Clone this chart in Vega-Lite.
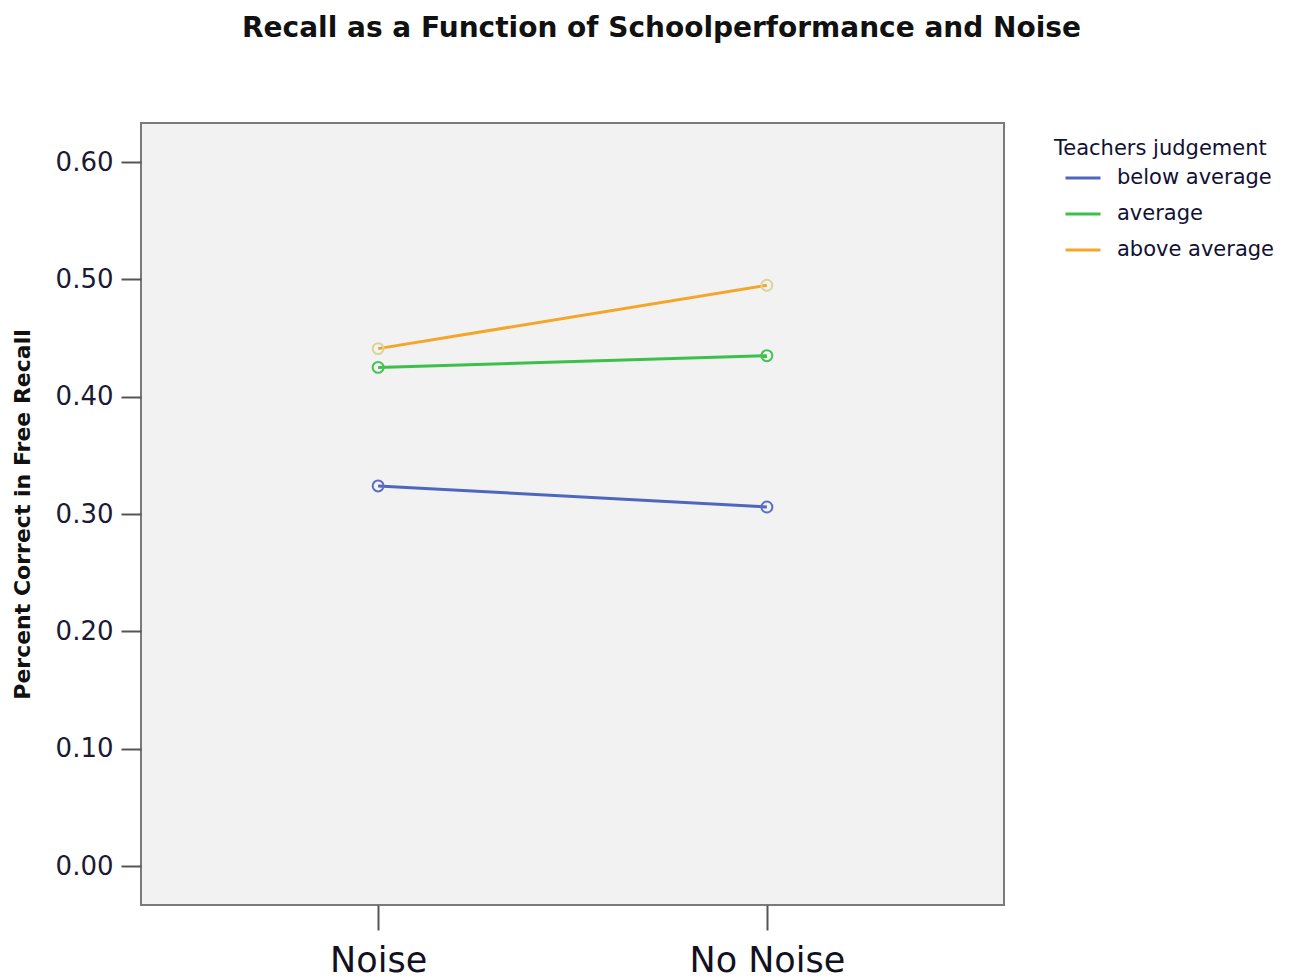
{
  "$schema": "https://vega.github.io/schema/vega-lite/v6.json",
  "autosize": "none",
  "width": 863,
  "height": 782,
  "padding": {"left": 141, "top": 123, "right": 291, "bottom": 74},
  "background": "white",
  "config": {
    "font": "DejaVu Sans",
    "view": {"fill": "#f2f2f2", "stroke": "#7a7a7a", "strokeWidth": 2}
  },
  "title": {
    "text": "Recall as a Function of Schoolperformance and Noise",
    "fontSize": 28,
    "fontWeight": "bold",
    "color": "#111111",
    "anchor": "middle",
    "dx": 89,
    "offset": 80,
    "font": "DejaVu Sans"
  },
  "data": {
    "values": [
      {"noise": "Noise", "judgement": "below average", "recall": 0.324},
      {"noise": "No Noise", "judgement": "below average", "recall": 0.306},
      {"noise": "Noise", "judgement": "average", "recall": 0.425},
      {"noise": "No Noise", "judgement": "average", "recall": 0.435},
      {"noise": "Noise", "judgement": "above average", "recall": 0.441},
      {"noise": "No Noise", "judgement": "above average", "recall": 0.495}
    ]
  },
  "encoding": {
    "x": {
      "field": "noise",
      "type": "nominal",
      "sort": ["Noise", "No Noise"],
      "scale": {"type": "point", "padding": 0.61},
      "axis": {
        "title": null,
        "labelAngle": 0,
        "labelFontSize": 35,
        "labelColor": "#111122",
        "labelPadding": 13,
        "tickSize": 25,
        "tickWidth": 2,
        "tickColor": "#555555",
        "domain": false,
        "grid": false
      }
    },
    "y": {
      "field": "recall",
      "type": "quantitative",
      "scale": {"domain": [-0.0332, 0.6333], "nice": false, "zero": false},
      "axis": {
        "title": "Percent Correct in Free Recall",
        "titleFontSize": 22,
        "titleFontWeight": "bold",
        "titleColor": "#111111",
        "titlePadding": 21,
        "values": [0, 0.1, 0.2, 0.3, 0.4, 0.5, 0.6],
        "format": ".2f",
        "labelFontSize": 26,
        "labelColor": "#1a1a33",
        "labelPadding": 8,
        "tickSize": 20,
        "tickWidth": 2,
        "tickColor": "#555555",
        "domain": false,
        "grid": false
      }
    }
  },
  "layer": [
    {
      "mark": {"type": "line", "strokeWidth": 3},
      "encoding": {
        "color": {
          "field": "judgement",
          "type": "nominal",
          "sort": ["below average", "average", "above average"],
          "scale": {
            "domain": ["below average", "average", "above average"],
            "range": ["#4f66bf", "#3dbf4c", "#f5a52a"]
          },
          "legend": {
            "title": "Teachers judgement",
            "orient": "none",
            "legendX": 913,
            "legendY": 15,
            "titleFontSize": 21,
            "titleFontWeight": "normal",
            "titleColor": "#111133",
            "titlePadding": 0,
            "titleLimit": 500,
            "labelLimit": 500,
            "labelFontSize": 21,
            "labelColor": "#111133",
            "symbolType": "stroke",
            "symbolSize": 1225,
            "symbolStrokeWidth": 3,
            "symbolOffset": 10,
            "rowPadding": 7,
            "labelOffset": 15,
            "padding": 0,
            "offset": 0
          }
        }
      }
    },
    {
      "mark": {"type": "point", "shape": "circle", "filled": false, "size": 120, "strokeWidth": 2, "opacity": 1},
      "encoding": {
        "stroke": {
          "field": "judgement",
          "type": "nominal",
          "scale": {
            "domain": ["below average", "average", "above average"],
            "range": ["#5a6ec4", "#45c255", "#d8d49e"]
          },
          "legend": null
        }
      }
    }
  ],
  "resolve": {"scale": {"color": "independent"}}
}
